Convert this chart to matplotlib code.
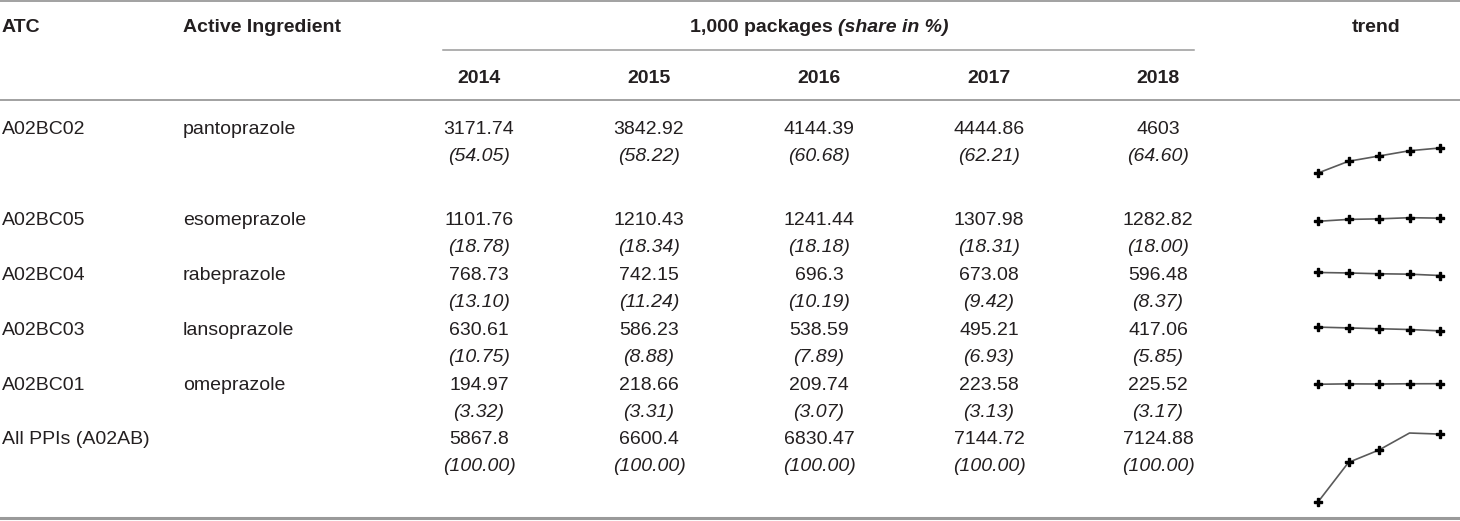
import matplotlib
matplotlib.use('Agg')
import matplotlib.pyplot as plt

# Tabelle: PPI-Verordnungen 2014-2018 mit Trend-Sparklines

years = ['2014', '2015', '2016', '2017', '2018']
atc_codes = ['A02BC02', 'A02BC05', 'A02BC04', 'A02BC03', 'A02BC01', 'All PPIs (A02AB)']
ingredients = ['pantoprazole', 'esomeprazole', 'rabeprazole', 'lansoprazole', 'omeprazole', '']

pkg_pantoprazole = [3171.74, 3842.92, 4144.39, 4444.86, 4603]
pkg_esomeprazole = [1101.76, 1210.43, 1241.44, 1307.98, 1282.82]
pkg_rabeprazole = [768.73, 742.15, 696.3, 673.08, 596.48]
pkg_lansoprazole = [630.61, 586.23, 538.59, 495.21, 417.06]
pkg_omeprazole = [194.97, 218.66, 209.74, 223.58, 225.52]
pkg_all = [5867.8, 6600.4, 6830.47, 7144.72, 7124.88]

share_pantoprazole = [54.05, 58.22, 60.68, 62.21, 64.60]
share_esomeprazole = [18.78, 18.34, 18.18, 18.31, 18.00]
share_rabeprazole = [13.10, 11.24, 10.19, 9.42, 8.37]
share_lansoprazole = [10.75, 8.88, 7.89, 6.93, 5.85]
share_omeprazole = [3.32, 3.31, 3.07, 3.13, 3.17]
share_all = [100.00, 100.00, 100.00, 100.00, 100.00]

packages = [pkg_pantoprazole, pkg_esomeprazole, pkg_rabeprazole,
            pkg_lansoprazole, pkg_omeprazole, pkg_all]
shares = [share_pantoprazole, share_esomeprazole, share_rabeprazole,
          share_lansoprazole, share_omeprazole, share_all]

# Layout in Pixel (von oben)
W, H = 1460, 521
row_y = [127, 218, 273, 328, 383, 437]
share_dy = 27
col_x = [479, 649, 819, 989, 1158]
spark_y = [160.5, 219.5, 274, 329, 384, 467.5]
spark_k = [0.0175, 0.0175, 0.0175, 0.0175, 0.0175, 0.054]
spark_x0, spark_w = 1318, 122

TXT = '#231f20'
LINE = '#9a9a9a'
FS = 14

plt.rcParams['font.family'] = ['Liberation Sans', 'DejaVu Sans']

fig = plt.figure(figsize=(W / 100, H / 100), dpi=100)


def fx(px):
    return px / W


def fy(py):
    return 1 - py / H


def txt(x, y, s, **kw):
    # y = optische Mitte der Ziffern, Grundlinie liegt ca. 7px tiefer
    return fig.text(fx(x), fy(y + 7), s, color=TXT, fontsize=FS, va='baseline', **kw)


def hline(y, x0, x1, lw):
    fig.add_artist(plt.Line2D([fx(x0), fx(x1)], [fy(y), fy(y)], color=LINE, lw=lw,
                              transform=fig.transFigure))


# Linien
hline(1, 0, W, 1.3)
hline(50, 443, 1194, 1.1)
hline(100, 0, W, 1.3)
hline(518, 0, W, 2.2)

# Kopfzeile
txt(2, 25, 'ATC', fontweight='bold')
txt(183, 25, 'Active Ingredient', fontweight='bold')
txt(1376, 25, 'trend', fontweight='bold', ha='center')
t1 = txt(0, 25, '1,000 packages ', fontweight='bold', ha='left')
t2 = txt(0, 25, '(share in %)', fontweight='bold', style='italic', ha='left')
fig.canvas.draw()
r = fig.canvas.get_renderer()
w1 = t1.get_window_extent(r).width
w2 = t2.get_window_extent(r).width
start = 819 - (w1 + w2) / 2
t1.set_x(fx(start))
t2.set_x(fx(start + w1))

for x, yr in zip(col_x, years):
    txt(x, 76, yr, fontweight='bold', ha='center')

# Zeilen
for i in range(len(atc_codes)):
    y = row_y[i]
    txt(2, y, atc_codes[i])
    txt(183, y, ingredients[i])
    for j in range(len(years)):
        txt(col_x[j], y, '{:g}'.format(packages[i][j]), ha='center')
        txt(col_x[j], y + share_dy, '({:.2f})'.format(shares[i][j]), ha='center', style='italic')

    # Sparkline
    vals = packages[i]
    hp = 90
    ax = fig.add_axes([fx(spark_x0), fy(spark_y[i] + hp / 2), spark_w / W, hp / H])
    mid = (min(vals) + max(vals)) / 2
    half = hp / 2 / spark_k[i]
    ax.set_ylim(mid - half, mid + half)
    ax.set_xlim(0, len(vals) - 1)
    ax.axis('off')
    mev = [0, 1, 2, 4] if i == len(atc_codes) - 1 else None
    ax.plot(range(len(vals)), vals, color='#5a5a5a', lw=1.2, marker='P', ms=5.5,
            mfc='black', mec='black', markevery=mev, clip_on=False)

fig.savefig('out.png', dpi=100)
